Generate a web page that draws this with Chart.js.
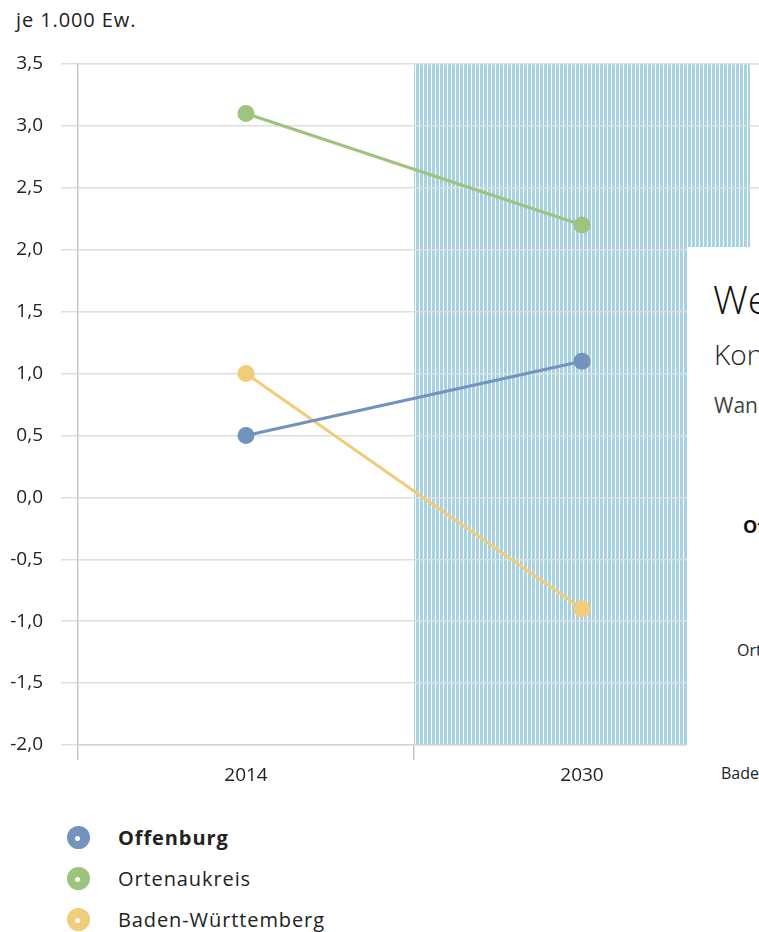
<!DOCTYPE html>
<html lang="de">
<head>
<meta charset="utf-8">
<script src="https://cdn.jsdelivr.net/npm/chart.js@4/dist/chart.umd.min.js"></script>
<style>
    body { margin: 0; background: #fff; font-family: "Open Sans", sans-serif; color: #222; }
    #wrap { position: relative; width: 759px; height: 932px; overflow: hidden; }
    #unit { position: absolute; left: 16px; top: 6px; font-size: 20px; letter-spacing: 0.9px; }
    #chartBox { position: absolute; left: 0; top: 0; width: 759px; height: 800px; }
    #legend { position: absolute; left: 67px; top: 817px; }
    .item { display: flex; align-items: center; height: 41px; font-size: 20px; letter-spacing: 0.9px; }
    .dot { width: 23px; height: 23px; border-radius: 50%; margin-right: 28px; position: relative; }
    .dot::after { content: ''; position: absolute; left: 8px; top: 10px; width: 5px; height: 5px; border-radius: 50%; background: #fff; }
    #panel { position: absolute; left: 687px; top: 247px; width: 72px; height: 685px; background: #fff; overflow: hidden; white-space: nowrap; }
    #panel div { position: absolute; }
</style>
</head>
<body>
<div id="wrap">
    <div id="unit">je 1.000 Ew.</div>
    <div id="chartBox"><canvas id="lineChart"></canvas></div>
    <div id="legend"></div>
    <div id="panel">
        <div style="left:26px;top:25px;font-size:39px;font-weight:300;color:#111">Wegzüge</div>
        <div style="left:27px;top:88px;font-size:28px;font-weight:300;color:#222">Konsequenzen</div>
        <div style="left:27px;top:144px;font-size:21px;color:#444">Wanderungen</div>
        <div style="left:56px;top:267px;font-size:18px;font-weight:bold;color:#111">Offenburg</div>
        <div style="left:50px;top:392px;font-size:16px;color:#222">Ortenaukreis</div>
        <div style="left:34px;top:515px;font-size:16px;color:#222">Baden-Württemberg</div>
    </div>
</div>
<script>
// Daten
const years = ['2014', '2030'];
const seriesNames = ['Offenburg', 'Ortenaukreis', 'Baden-Württemberg'];
const offenburg = [0.5, 1.1];
const ortenaukreis = [3.1, 2.2];
const badenWuerttemberg = [1.0, -0.9];
const seriesColors = ['#7193bd', '#9cc47f', '#f1cd7a'];
const yMin = -2.0;
const yMax = 3.5;
const yStep = 0.5;

function formatTick(v) {
    return v.toFixed(1).replace('.', ',');
}

// stripe pattern for the projection band
function makeStripes(ctx) {
    const c = document.createElement('canvas');
    c.width = 4;
    c.height = 4;
    const p = c.getContext('2d');
    p.fillStyle = '#ffffff';
    p.fillRect(0, 0, 4, 4);
    p.fillStyle = '#a6d2e2';
    p.fillRect(0, 0, 3, 4);
    return ctx.createPattern(c, 'repeat');
}

const bandPlugin = {
    id: 'band',
    beforeDraw(chart) {
        const { ctx, chartArea, scales } = chart;
        const x = scales.x;
        const start = (x.getPixelForValue(0) + x.getPixelForValue(1)) / 2;
        ctx.save();
        ctx.fillStyle = makeStripes(ctx);
        ctx.fillRect(start, chartArea.top, chartArea.right - start, chartArea.bottom - chartArea.top);
        ctx.restore();
    },
    afterDraw(chart) {
        // grid lines run on past the band to the page edge
        const { ctx, chartArea, scales } = chart;
        ctx.save();
        ctx.strokeStyle = '#dedede';
        ctx.lineWidth = 1.5;
        scales.y.ticks.forEach(t => {
            const y = scales.y.getPixelForValue(t.value);
            ctx.beginPath();
            ctx.moveTo(chartArea.right, y);
            ctx.lineTo(chart.width, y);
            ctx.stroke();
        });
        ctx.restore();
    }
};

const allSeries = [offenburg, ortenaukreis, badenWuerttemberg];

const datasets = allSeries.map((data, i) => ({
    label: seriesNames[i],
    data: data,
    borderColor: seriesColors[i],
    backgroundColor: seriesColors[i],
    pointBackgroundColor: seriesColors[i],
    pointBorderWidth: 0,
    pointRadius: 8.5,
    borderWidth: 3,
    tension: 0
}));

// HTML legend
const legend = document.getElementById('legend');
seriesNames.forEach((name, i) => {
    const row = document.createElement('div');
    row.className = 'item';
    const dot = document.createElement('span');
    dot.className = 'dot';
    dot.style.background = seriesColors[i];
    const label = document.createElement('span');
    label.textContent = name;
    if (i === 0) label.style.fontWeight = 'bold';
    row.appendChild(dot);
    row.appendChild(label);
    legend.appendChild(row);
});

const ctx = document.getElementById('lineChart').getContext('2d');
new Chart(ctx, {
    type: 'line',
    data: { labels: years, datasets: datasets },
    options: {
        responsive: true,
        maintainAspectRatio: false,
        animation: false,
        layout: { padding: { top: 64, right: 9, bottom: 0, left: 0 } },
        plugins: {
            legend: { display: false },
            tooltip: { enabled: false }
        },
        scales: {
            x: {
                offset: true,
                grid: {
                    offset: true,
                    drawOnChartArea: false,
                    drawTicks: true,
                    tickLength: 15,
                    color: '#c8c8c8',
                    lineWidth: 1.5
                },
                border: { display: true, color: '#d4d4d4', width: 1.5 },
                ticks: { color: '#222', padding: 4, font: { family: 'Open Sans', size: 19 } },
                afterFit: s => { s.height = 55; }
            },
            y: {
                min: yMin,
                max: yMax,
                grid: { color: '#dedede', lineWidth: 1.5, tickLength: 17 },
                border: { display: true, color: '#c8c8c8', width: 1.5 },
                ticks: {
                    stepSize: yStep,
                    padding: 18,
                    color: '#222',
                    font: { family: 'Open Sans', size: 19 },
                    callback: v => formatTick(v)
                },
                afterFit: s => { s.width = 78; }
            }
        }
    },
    plugins: [bandPlugin]
});
</script>
</body>
</html>
